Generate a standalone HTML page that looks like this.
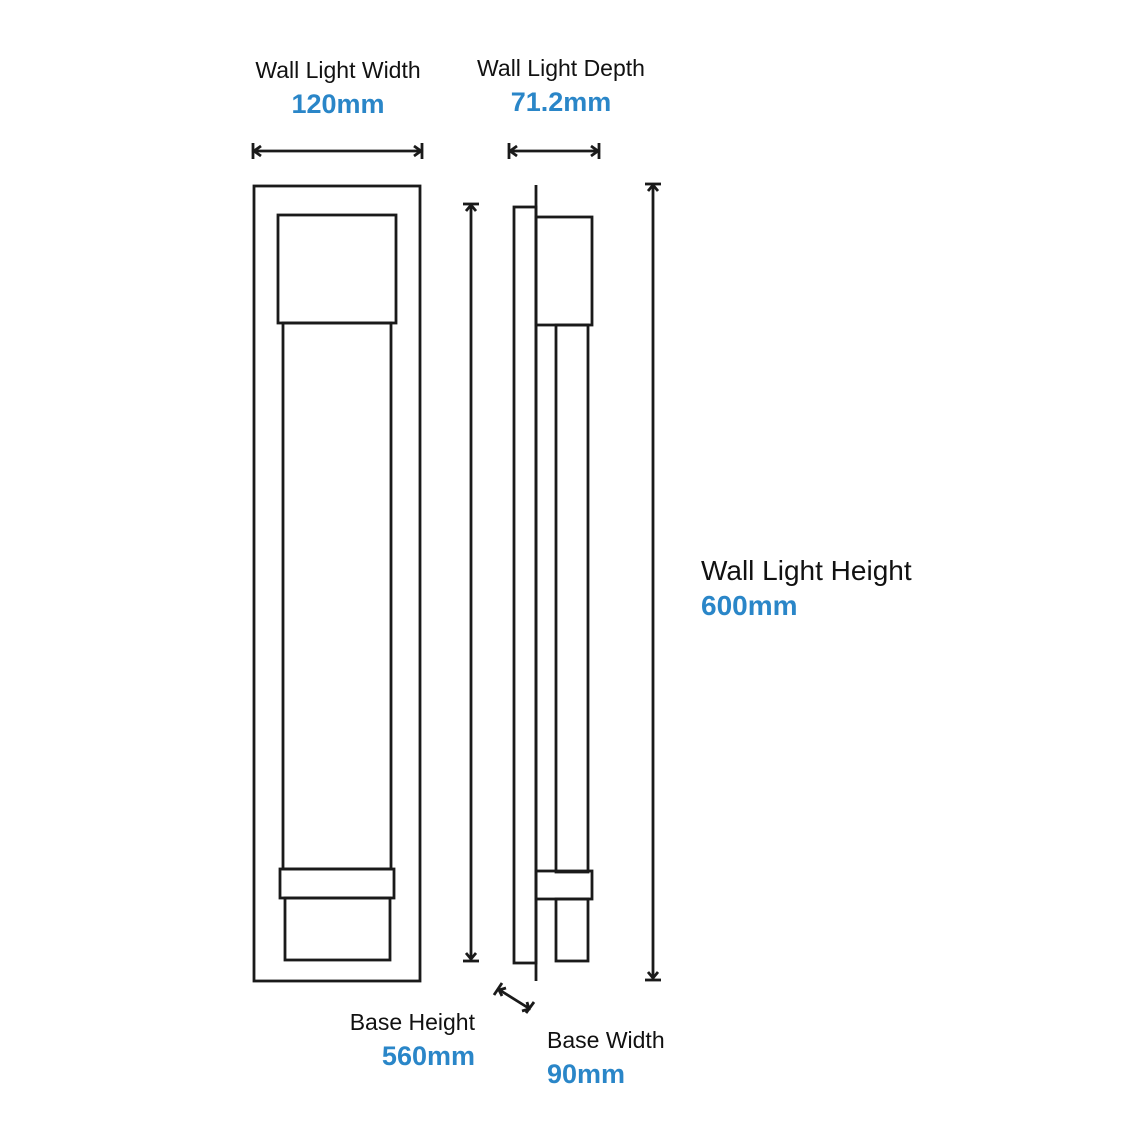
<!DOCTYPE html>
<html><head><style>
body{margin:0;background:#fff}
svg{display:block}
text{font-family:"Liberation Sans",sans-serif}
.l{fill:#111;font-size:23px}
.b{fill:#2a86c8;font-size:27px;font-weight:bold}
</style></head><body>
<svg width="1148" height="1148" viewBox="0 0 1148 1148">
<rect width="1148" height="1148" fill="#fff"/>
<g fill="none" stroke="#1a1a1a" stroke-width="2.8">
<rect x="254" y="186" width="166" height="795"/>
<rect x="278" y="215" width="118" height="108"/>
<rect x="283" y="323" width="108" height="546"/>
<rect x="280" y="869" width="114" height="29"/>
<rect x="285" y="898" width="105" height="62"/>
<line x1="536" y1="185" x2="536" y2="981"/>
<rect x="514" y="207" width="22" height="756"/>
<rect x="536" y="217" width="56" height="108"/>
<rect x="556" y="325" width="32" height="547"/>
<rect x="536" y="871" width="56" height="28"/>
<rect x="556" y="899" width="32" height="62"/>
<line x1="253" y1="151" x2="421" y2="151"/>
<line x1="253" y1="143" x2="253" y2="159"/><line x1="422" y1="143" x2="422" y2="159"/>
<polyline points="261,146 254,151 261,156"/><polyline points="414,146 421,151 414,156"/>
<line x1="509" y1="151" x2="599" y2="151"/>
<line x1="509" y1="143" x2="509" y2="159"/><line x1="599" y1="143" x2="599" y2="159"/>
<polyline points="517,146 510,151 517,156"/><polyline points="591,146 598,151 591,156"/>
<line x1="471" y1="204" x2="471" y2="960"/>
<line x1="463" y1="204" x2="479" y2="204"/><line x1="463" y1="961" x2="479" y2="961"/>
<polyline points="466,211 471,205 476,211"/><polyline points="466,953 471,959 476,953"/>
<line x1="653" y1="184" x2="653" y2="979"/>
<line x1="645" y1="184" x2="661" y2="184"/><line x1="645" y1="980" x2="661" y2="980"/>
<polyline points="648,191 653,185 658,191"/><polyline points="648,972 653,978 658,972"/>
<line x1="498" y1="989" x2="530" y2="1009"/>
<line x1="494" y1="995" x2="502" y2="983"/><line x1="526" y1="1013" x2="534" y2="1002"/>
<polyline points="502,996 499,990 506,988"/><polyline points="522,1011 529,1009 527,1002"/>
</g>
<text class="l" x="338" y="78" text-anchor="middle">Wall Light Width</text>
<text class="b" x="338" y="113" text-anchor="middle">120mm</text>
<text class="l" x="561" y="76" text-anchor="middle">Wall Light Depth</text>
<text class="b" x="561" y="111" text-anchor="middle">71.2mm</text>
<text class="l" x="701" y="580" style="font-size:28px">Wall Light Height</text>
<text class="b" x="701" y="615" style="font-size:28px">600mm</text>
<text class="l" x="475" y="1030" text-anchor="end">Base Height</text>
<text class="b" x="475" y="1065" text-anchor="end">560mm</text>
<text class="l" x="547" y="1048">Base Width</text>
<text class="b" x="547" y="1083">90mm</text>
</svg>
</body></html>
